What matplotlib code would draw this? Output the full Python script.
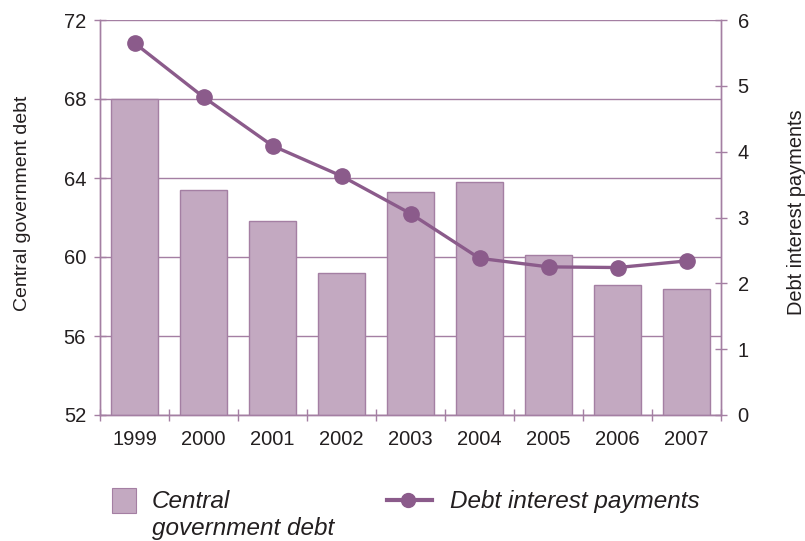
import numpy as np
import matplotlib.pyplot as plt
from matplotlib.lines import Line2D
from matplotlib.patches import Rectangle

plt.rcParams['font.family'] = ['Liberation Sans', 'DejaVu Sans']

years = ['1999', '2000', '2001', '2002', '2003', '2004', '2005', '2006', '2007']
central_debt = [68.0, 63.4, 61.8, 59.2, 63.3, 63.8, 60.1, 58.6, 58.4]
interest_payments = [5.65, 4.83, 4.09, 3.63, 3.06, 2.38, 2.25, 2.24, 2.34]

bar_face = '#c3a9c1'
bar_edge = '#a47fa3'
line_col = '#8b5b8b'
axis_col = '#a47fa3'
text_col = '#231f20'

fig = plt.figure(figsize=(8.05, 5.41), dpi=100)
ax1 = fig.add_axes([100 / 805, 1 - 415 / 541, 621 / 805, 395 / 541])
ax2 = ax1.twinx()

x = np.arange(len(years))
ax1.bar(x, central_debt, width=0.667, bottom=0, color=bar_face,
        edgecolor=bar_edge, linewidth=1.0, zorder=2)
ax1.set_ylim(52, 72)
ax1.set_yticks([52, 56, 60, 64, 68, 72])
ax1.set_xlim(-0.5, len(years) - 0.5)
ax1.yaxis.grid(True, color=axis_col, linewidth=1.0, zorder=0)
ax1.set_axisbelow(True)

ax2.plot(x, interest_payments, color=line_col, linewidth=2.4, marker='o',
         markersize=11, zorder=3)
ax2.set_ylim(0, 6)
ax2.set_yticks(range(7))

# category labels centred, ticks between categories
ax1.set_xticks(x)
ax1.set_xticklabels(years)
ax1.set_xticks(np.arange(-0.5, len(years), 1.0), minor=True)
ax1.tick_params(axis='x', which='major', length=0, pad=11, labelsize=14.5,
                labelcolor=text_col)
ax1.tick_params(axis='x', which='minor', length=8, direction='inout',
                color=axis_col, width=1.0)
ax1.tick_params(axis='y', length=8, direction='inout', color=axis_col,
                width=1.0, labelsize=14.5, labelcolor=text_col, pad=6)
ax2.tick_params(axis='y', length=8, direction='inout', color=axis_col,
                width=1.0, labelsize=14.5, labelcolor=text_col, pad=8)

for ax in (ax1, ax2):
    ax.spines['top'].set_visible(False)
    for s in ('left', 'right', 'bottom'):
        ax.spines[s].set_color(axis_col)
        ax.spines[s].set_linewidth(1.0)

fig.text(23 / 805, 1 - 203 / 541, 'Central government debt', rotation=90,
         ha='center', va='center', fontsize=14, color=text_col)
fig.text(796 / 805, 1 - 212 / 541, 'Debt interest payments', rotation=90,
         ha='center', va='center', fontsize=14.4, color=text_col)

# legend drawn by hand below the axes
fig.add_artist(Rectangle((112 / 805, 1 - 513 / 541), 24 / 805, 25 / 541,
                         transform=fig.transFigure, facecolor=bar_face,
                         edgecolor=bar_edge, linewidth=0.8))
fig.text(152 / 805, 1 - 508 / 541, 'Central', style='italic',
         fontsize=17.5, color=text_col, ha='left', va='baseline')
fig.text(152 / 805, 1 - 535 / 541, 'government debt', style='italic',
         fontsize=17.5, color=text_col, ha='left', va='baseline')
fig.add_artist(Line2D([387 / 805, 432 / 805], [1 - 500 / 541, 1 - 500 / 541],
                      transform=fig.transFigure, color=line_col, linewidth=3.0))
fig.add_artist(Line2D([408 / 805], [1 - 500 / 541], transform=fig.transFigure,
                      color=line_col, marker='o', markersize=10, linestyle=''))
fig.text(450 / 805, 1 - 508 / 541, 'Debt interest payments', style='italic',
         fontsize=17.5, color=text_col, ha='left', va='baseline')

fig.savefig('out.png', dpi=100)
